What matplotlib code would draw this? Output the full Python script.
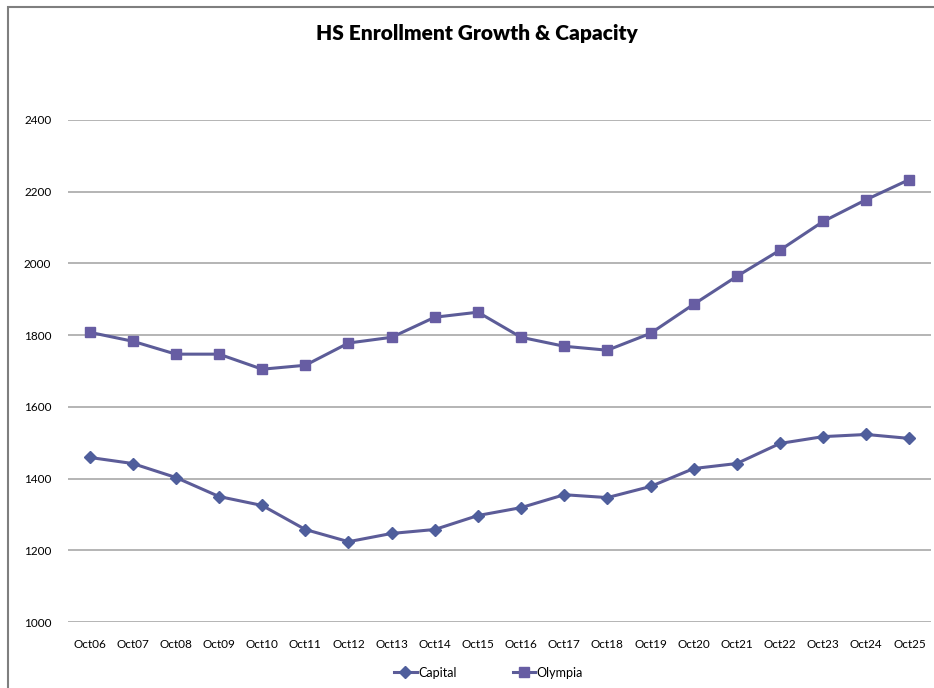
import numpy as np
import matplotlib
matplotlib.use("Agg")
import matplotlib.pyplot as plt
from matplotlib.patches import Rectangle

years = ["Oct06", "Oct07", "Oct08", "Oct09", "Oct10", "Oct11", "Oct12", "Oct13", "Oct14", "Oct15",
         "Oct16", "Oct17", "Oct18", "Oct19", "Oct20", "Oct21", "Oct22", "Oct23", "Oct24", "Oct25"]
capital = [1459, 1442, 1403, 1350, 1325, 1258, 1224, 1247, 1258, 1297,
           1319, 1355, 1347, 1378, 1428, 1442, 1498, 1517, 1523, 1512]
olympia = [1808, 1783, 1747, 1747, 1705, 1716, 1778, 1794, 1850, 1864,
           1794, 1769, 1758, 1805, 1886, 1964, 2037, 2117, 2178, 2234]
yticks = [1000, 1200, 1400, 1600, 1800, 2000, 2200, 2400]

plt.rcParams['font.family'] = ['Lato', 'DejaVu Sans']

fig = plt.figure(figsize=(9.34, 6.88), dpi=100)
ax = fig.add_axes([0.0728, 0.0959, 0.924, 0.7297])

x = np.arange(len(years))
line_col = '#5C5C98'
ax.plot(x, capital, color=line_col, lw=2.2, marker='D', ms=6,
        mfc='#4F5E9C', mec='#4F5E9C', label='Capital', zorder=3)
ax.plot(x, olympia, color=line_col, lw=2.2, marker='s', ms=7,
        mfc='#675DA3', mec='#675DA3', label='Olympia', zorder=3)

ax.set_xlim(-0.5, len(years) - 0.5)
ax.set_ylim(1000, 2400)
ax.set_yticks(yticks)
ax.set_xticks(x)
ax.set_xticklabels(years, fontsize=8.5)
ax.tick_params(axis='y', labelsize=8.5, length=0, pad=12)
ax.tick_params(axis='x', length=0, pad=12)
ax.grid(axis='y', color='#A8A8A8', lw=1.2)
ax.set_axisbelow(True)
for s in ax.spines.values():
    s.set_visible(False)

fig.text(0.511, 0.952, "HS Enrollment Growth & Capacity", ha='center', va='center',
         fontsize=15, fontweight='heavy')

leg = fig.legend(loc='center', bbox_to_anchor=(0.523, 0.022), ncol=2, frameon=False,
                 fontsize=9, handlelength=1.8, handletextpad=0.1, columnspacing=4.5)

fig.patches.append(Rectangle((8 / 934, -0.05), 1.2, 1 - 7 / 688 + 0.05, transform=fig.transFigure,
                             fill=False, ec='#7F7F7F', lw=1.5))

fig.savefig("out.png", dpi=100)
